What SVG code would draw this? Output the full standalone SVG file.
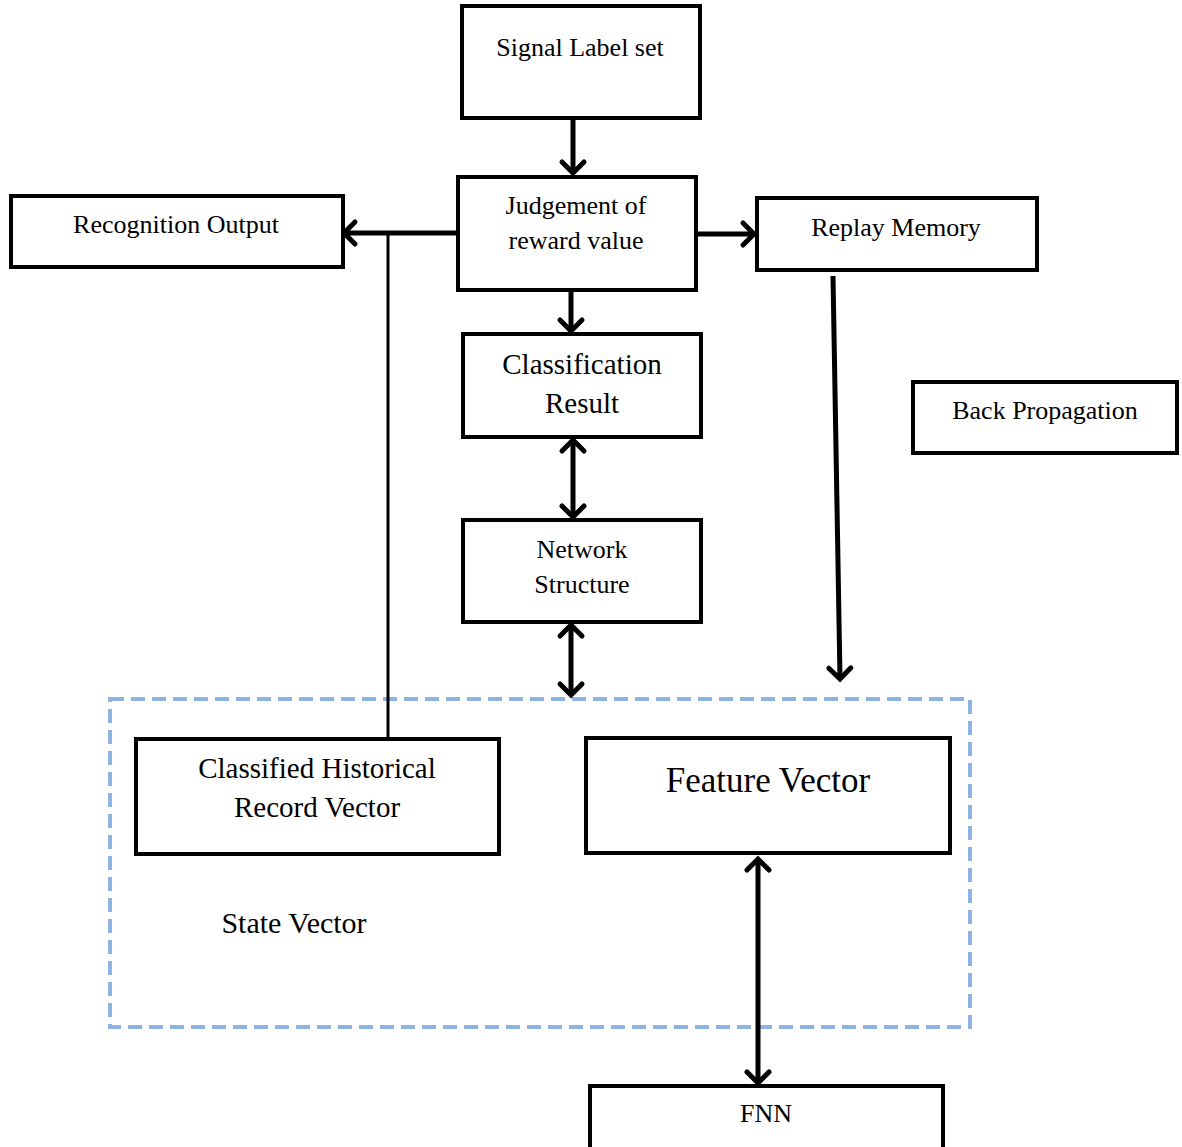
<svg xmlns="http://www.w3.org/2000/svg" width="1182" height="1147" viewBox="0 0 1182 1147">
<style>
.box{fill:#fff;stroke:#000;stroke-width:4}
.t{font-family:"Liberation Serif","Times New Roman",serif;fill:#000;text-anchor:middle}
.s{font-size:26px}
.m{font-size:29px}
.c{stroke:#000;stroke-width:5;fill:none}
</style>
<defs>
<marker id="ah" markerUnits="userSpaceOnUse" markerWidth="30" markerHeight="30" viewBox="-15 -15 30 30" refX="-1" refY="0" orient="auto-start-reverse" overflow="visible">
<path d="M-11,-11 L0,0 L-11,11" fill="none" stroke="#000" stroke-width="5" stroke-linecap="round" stroke-linejoin="miter"/>
</marker>
</defs>
<rect width="1182" height="1147" fill="#fff"/>
<rect x="110" y="699" width="860" height="328" fill="none" stroke="#8db3e2" stroke-width="4" stroke-dasharray="14 7"/>
<g id="connectors">
<line class="c" x1="573" y1="118" x2="573" y2="172" marker-end="url(#ah)"/>
<line class="c" x1="458" y1="233" x2="345" y2="233" marker-end="url(#ah)"/>
<line x1="388" y1="233" x2="388" y2="739" stroke="#000" stroke-width="3"/>
<line class="c" x1="696" y1="234" x2="753" y2="234" marker-end="url(#ah)"/>
<line class="c" x1="571" y1="290" x2="571" y2="330" marker-end="url(#ah)"/>
<line class="c" x1="573" y1="441" x2="573" y2="516" marker-start="url(#ah)" marker-end="url(#ah)"/>
<line class="c" x1="571" y1="626" x2="571" y2="694" marker-start="url(#ah)" marker-end="url(#ah)"/>
<line class="c" x1="833" y1="276" x2="840" y2="678" marker-end="url(#ah)"/>
<line class="c" x1="758" y1="860" x2="758" y2="1082" marker-start="url(#ah)" marker-end="url(#ah)"/>
</g>
<g id="signal"><rect class="box" x="462" y="6" width="238" height="112"/><text class="t s" x="580" y="56">Signal Label set</text></g>
<g id="judgement"><rect class="box" x="458" y="177" width="238" height="113"/><text class="t s" x="576" y="214">Judgement of</text><text class="t s" x="576" y="249">reward value</text></g>
<g id="recognition"><rect class="box" x="11" y="196" width="332" height="71"/><text class="t s" x="176" y="233">Recognition Output</text></g>
<g id="replay"><rect class="box" x="757" y="198" width="280" height="72"/><text class="t s" x="896" y="236">Replay Memory</text></g>
<g id="classification"><rect class="box" x="463" y="334" width="238" height="103"/><text class="t m" x="582" y="374">Classification</text><text class="t m" x="582" y="413">Result</text></g>
<g id="backprop"><rect class="box" x="913" y="382" width="264" height="71"/><text class="t s" x="1045" y="419">Back Propagation</text></g>
<g id="network"><rect class="box" x="463" y="520" width="238" height="102"/><text class="t s" x="582" y="558">Network</text><text class="t s" x="582" y="593">Structure</text></g>
<g id="historical"><rect class="box" x="136" y="739" width="363" height="115"/><text class="t m" x="317" y="778">Classified Historical</text><text class="t m" x="317" y="817">Record Vector</text></g>
<g id="feature"><rect class="box" x="586" y="738" width="364" height="115"/><text class="t" x="768" y="792" font-size="35">Feature Vector</text></g>
<g id="statevector"><text class="t" x="294" y="933" font-size="30">State Vector</text></g>
<g id="fnn"><rect class="box" x="590" y="1086" width="353" height="64"/><text class="t s" x="766" y="1122">FNN</text></g>
</svg>
